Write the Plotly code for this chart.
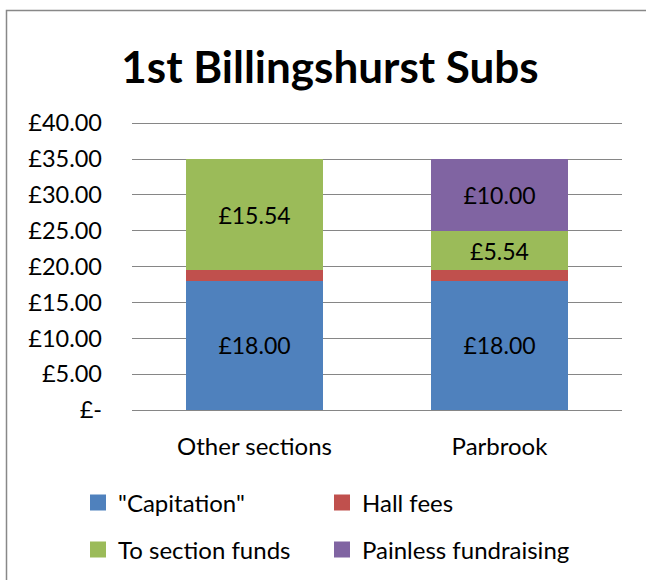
import plotly.graph_objects as go

categories = ["Other sections", "Parbrook"]
capitation = [18.00, 18.00]
hall_fees = [1.46, 1.46]
section_funds = [15.54, 5.54]
painless = [0.00, 10.00]

y_ticks = [0, 5, 10, 15, 20, 25, 30, 35, 40]
y_tick_labels = ["£-", "£5.00", "£10.00", "£15.00", "£20.00", "£25.00", "£30.00", "£35.00", "£40.00"]

FONT = "Lato"

def labels(vals, show=True):
    return [f"£{v:.2f}" if (show and v > 0) else "" for v in vals]

series = [
    ('"Capitation"', capitation, "#4F81BD", True, "legend"),
    ("Hall fees", hall_fees, "#C0504D", False, "legend2"),
    ("To section funds", section_funds, "#9BBB59", True, "legend3"),
    ("Painless fundraising", painless, "#8064A2", True, "legend4"),
]

fig = go.Figure()
for name, vals, color, show, leg in series:
    fig.add_trace(go.Bar(
        name=name, x=categories, y=vals,
        marker=dict(color=color, line=dict(width=0)),
        text=labels(vals, show), textposition="inside",
        insidetextanchor="middle", constraintext="none",
        textfont=dict(family=FONT, size=23, color="black"),
        showlegend=False, hoverinfo="skip",
    ))
# legend entries (square swatches)
for name, vals, color, show, leg in series:
    fig.add_trace(go.Scatter(
        name=name, x=[None], y=[None], mode="markers",
        marker=dict(symbol="square", size=16, color=color),
        legend=leg, showlegend=True, hoverinfo="skip",
    ))

W, H = 646, 580
L, R, T, B = 132, 24, 121, 170
pw, ph = W - L - R, H - T - B

def px_x(px):
    return (px - L) / pw

def px_y(py):
    return (H - B - py) / ph

def leg(xpx, ypx):
    return dict(orientation="h", xref="container", yref="container",
                x=xpx / W, xanchor="left", y=1 - ypx / H, yanchor="middle",
                font=dict(family=FONT, size=24), bgcolor="rgba(0,0,0,0)")

fig.update_layout(
    width=W, height=H,
    margin=dict(l=L, r=R, t=T, b=B, autoexpand=False),
    barmode="stack", bargap=0.44,
    paper_bgcolor="white", plot_bgcolor="white",
    font=dict(family=FONT, size=24, color="black"),
    title=dict(text="<b>1st Billingshurst Subs</b>", x=px_x(330), xanchor="center",
               xref="paper",
               y=1 - 68 / H, yanchor="middle",
               font=dict(family=FONT, size=44, color="black")),
    showlegend=True,
    legend=leg(78, 503),
    legend2=leg(322, 503),
    legend3=leg(78, 550),
    legend4=leg(322, 550),
    shapes=[dict(type="rect", xref="paper", yref="paper",
                 x0=px_x(6.5), x1=px_x(660), y0=px_y(600), y1=px_y(10.5),
                 line=dict(color="#888888", width=1.5), fillcolor="rgba(0,0,0,0)", layer="below")],
)
fig.update_yaxes(range=[0, 40.3], tickvals=y_ticks, ticktext=y_tick_labels,
                 showgrid=True, gridcolor="#868686", gridwidth=1,
                 zeroline=False, showline=False, ticks="", ticklabelstandoff=29,
                 tickfont=dict(family=FONT, size=23.5, color="black"), fixedrange=True)
fig.update_xaxes(showgrid=False, showline=True, linecolor="#868686", linewidth=1,
                 ticks="", ticklabelstandoff=15,
                 tickfont=dict(family=FONT, size=24, color="black"), fixedrange=True)

fig.write_html("out.html", config={"displayModeBar": False, "staticPlot": True},
               post_script="document.body.style.margin='0';document.body.style.overflow='hidden';")
